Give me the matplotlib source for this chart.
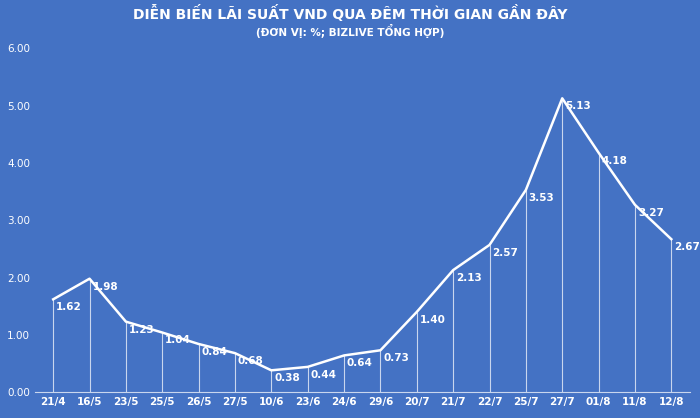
import matplotlib
matplotlib.use("Agg")
from matplotlib import pyplot as plt
import numpy as np

dates = ["21/4", "16/5", "23/5", "25/5", "26/5", "27/5", "10/6", "23/6", "24/6",
         "29/6", "20/7", "21/7", "22/7", "25/7", "27/7", "01/8", "11/8", "12/8"]
rates = [1.62, 1.98, 1.23, 1.04, 0.84, 0.68, 0.38, 0.44, 0.64,
         0.73, 1.40, 2.13, 2.57, 3.53, 5.13, 4.18, 3.27, 2.67]
yticks = [0, 1, 2, 3, 4, 5, 6]

bg = "#4472c4"
fig = plt.figure(figsize=(7, 4.18), dpi=100, facecolor=bg)
ax = fig.add_axes([0.05, 0.062, 0.935, 0.822], facecolor=bg)

x = np.arange(len(rates))
ax.vlines(x, 0, rates, color="#c9d6ee", lw=0.8)
ax.plot(x, rates, color="white", lw=1.8)
for xi, v in zip(x, rates):
    ax.text(xi + 0.08, v - 0.05, f"{v:.2f}", color="white", fontsize=7.5,
            fontweight="bold", ha="left", va="top")

ax.set_xlim(-0.5, len(rates) - 0.5)
ax.set_ylim(0, 6)
ax.set_yticks(yticks)
ax.set_yticklabels([f"{t:.2f}" for t in yticks])
ax.set_xticks(x)
ax.set_xticklabels(dates)
ax.tick_params(colors="white", length=0, labelsize=7.5)
for lbl in ax.get_xticklabels():
    lbl.set_fontweight("bold")
for s in ["top", "right", "left"]:
    ax.spines[s].set_visible(False)
ax.spines["bottom"].set_color("#c9d6ee")

fig.text(0.5, 0.955, "DIỄN BIẾN LÃI SUẤT VND QUA ĐÊM THỜI GIAN GẦN ĐÂY", color="white",
         fontsize=10, fontweight="bold", ha="center")
fig.text(0.5, 0.915, "(ĐƠN VỊ: %; BIZLIVE TỔNG HỢP)", color="white",
         fontsize=7.5, fontweight="bold", ha="center")

fig.savefig("out.png", dpi=100, facecolor=bg)
